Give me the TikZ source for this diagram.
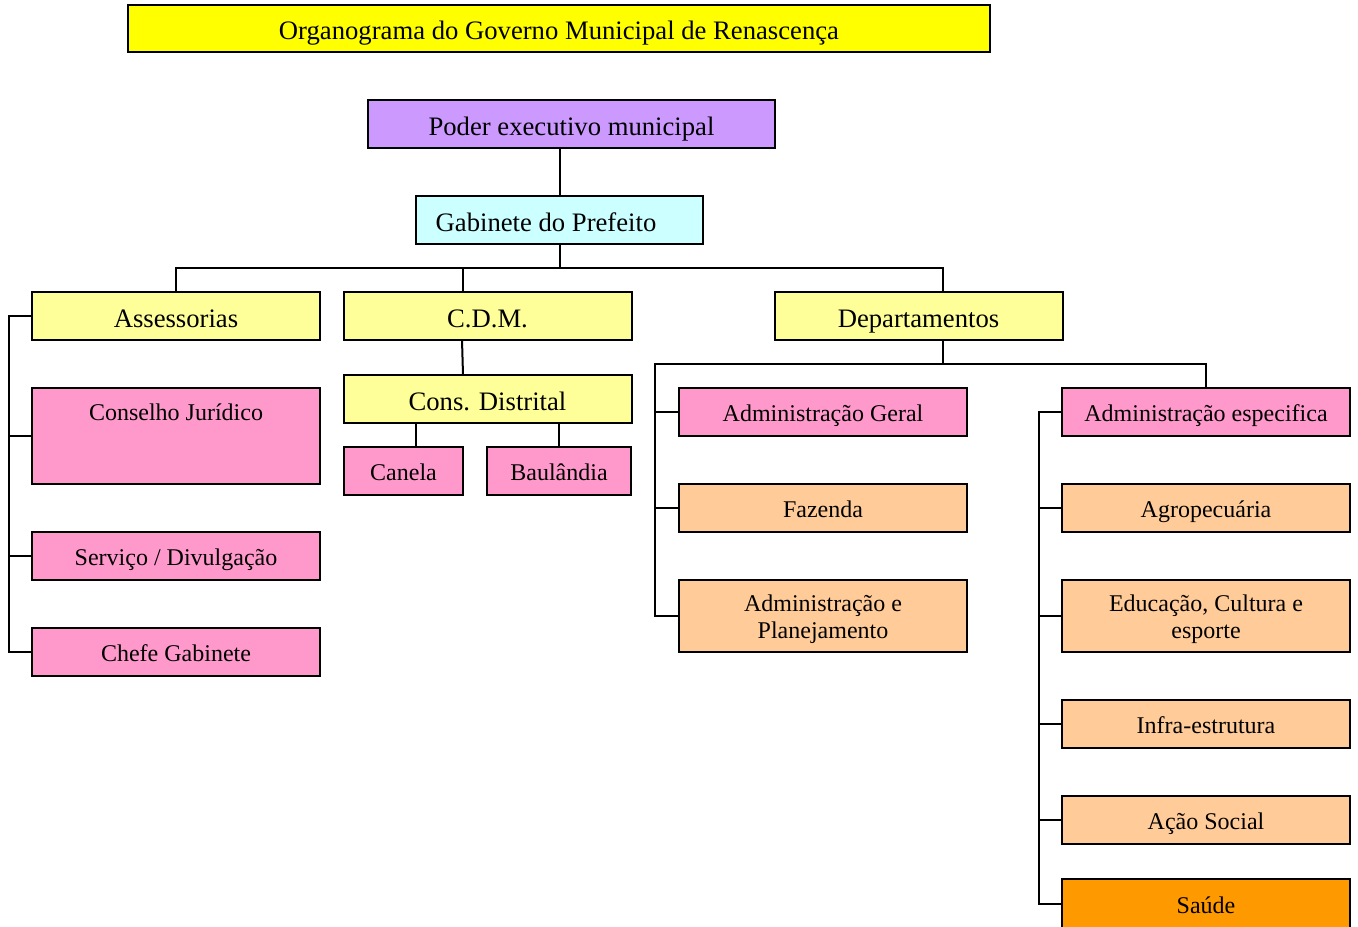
\documentclass[tikz,border=0pt]{standalone}
\usepackage{fontspec}
\setmainfont{Liberation Serif}
\newdimen\px \px=0.75pt
\definecolor{titleyellow}{RGB}{255,255,0}
\definecolor{lilac}{RGB}{204,153,255}
\definecolor{palecyan}{RGB}{204,255,255}
\definecolor{paleyellow}{RGB}{255,255,153}
\definecolor{rose}{RGB}{255,153,204}
\definecolor{peach}{RGB}{255,204,153}
\definecolor{amber}{RGB}{255,153,0}
% two centred lines whose baseline is the first one
\newcommand\twolines[2]{\vtop{\baselineskip=20.5pt\halign{\hfil##\hfil\cr #1\cr #2\cr}}}

\begin{document}
\begin{tikzpicture}[x=0.75pt,y=-0.75pt,
  box/.style={draw=black, line width=2\px, inner sep=0pt, outer sep=0pt},
  big/.style={box, font=\fontsize{20}{24}\selectfont, text height=19pt, text depth=2.5pt},
  small/.style={box, font=\fontsize{18}{21}\selectfont, text height=17pt, text depth=3pt},
  double/.style={small, text height=13pt, text depth=20pt, minimum height=72\px},
  wide/.style={minimum width=288\px, minimum height=48\px},
  wire/.style={line width=2\px, draw=black}]

\useasboundingbox (0,0) rectangle (1358,926);
\clip (0,0) rectangle (1358,926);

% heading and top of the hierarchy
\node[big, fill=titleyellow, minimum width=862\px, minimum height=47\px] (title) at (559,28.5)
  {Organograma do Governo Municipal de Renascença};
\node[big, fill=lilac, minimum width=407\px, minimum height=48\px] (poder) at (571.5,124)
  {Poder executivo municipal};
\node[big, fill=palecyan, minimum width=287\px, minimum height=48\px] (gab) at (559.5,220)
  {Gabinete do Prefeito\hspace*{27\px}};

% second level
\node[big, wide, fill=paleyellow] (ass) at (176,316) {Assessorias};
\node[big, wide, fill=paleyellow] (cdm) at (487.5,316) {C.D.M.};
\node[big, wide, fill=paleyellow] (dep) at (918.5,316) {Departamentos};

% C.D.M. branch
\node[big, wide, fill=paleyellow] (cons) at (487.5,399) {Cons. Distrital};
\node[small, fill=rose, minimum width=119\px, minimum height=48\px] (canela) at (403.5,471) {Canela};
\node[small, fill=rose, minimum width=144\px, minimum height=48\px] (baul) at (559,471) {Baulândia};

% Assessorias branch
\node[small, fill=rose, minimum width=288\px, minimum height=96\px, text height=13pt, text depth=36pt] (cj) at (176,436) {Conselho Jurídico};
\node[small, wide, fill=rose] (serv) at (176,556) {Serviço / Divulgação};
\node[small, wide, fill=rose] (chefe) at (176,652) {Chefe Gabinete};

% Departamentos, first column
\node[small, wide, fill=rose] (admg) at (823,412) {Administração Geral};
\node[small, wide, fill=peach] (faz) at (823,508) {Fazenda};
\node[double, minimum width=288\px, fill=peach] (adplan) at (823,616) {\twolines{Administração e}{Planejamento}};

% Departamentos, second column
\node[small, wide, fill=rose] (admesp) at (1206,412) {Administração especifica};
\node[small, wide, fill=peach] (agro) at (1206,508) {Agropecuária};
\node[double, minimum width=288\px, fill=peach] (edu) at (1206,616) {\twolines{Educação, Cultura e}{esporte}};
\node[small, wide, fill=peach] (infra) at (1206,724) {Infra-estrutura};
\node[small, wide, fill=peach] (acao) at (1206,820) {Ação Social};
\node[small, fill=amber, minimum width=288\px, minimum height=50\px] (saude) at (1206,904) {Saúde};

% drop points on the wide boxes
\coordinate (cdmdrop) at ([xshift=-24.5\px]cdm.north);
\coordinate (depdrop) at ([xshift=24.5\px]dep.north);
\coordinate (deprail) at ([xshift=-24\px]admg.west);

% connectors: top
\draw[wire] (poder.south -| gab.north) -- (gab.north);
\draw[wire] (gab.south) -- ++(0,24) coordinate (busA);
\draw[wire] (ass.north) -- (ass.north |- busA) -- (depdrop |- busA) -- (depdrop);
\draw[wire] (cdmdrop |- busA) -- (cdmdrop);

% connectors: C.D.M.
\draw[wire] ([xshift=-25.5\px]cdm.south) -- ([xshift=-24.5\px]cons.north);
\draw[wire] ([xshift=12.5\px]canela.north) -- ([xshift=12.5\px]canela.north |- cons.south);
\draw[wire] (baul.north) -- (baul.north |- cons.south);

% connectors: Assessorias
\draw[wire] (ass.west) -- ++(-23,0) coordinate (assrail) -- (assrail |- chefe.west) -- (chefe.west);
\draw[wire] (assrail |- cj.west) -- (cj.west);
\draw[wire] (assrail |- serv.west) -- (serv.west);

% connectors: Departamentos
\draw[wire] (dep.south -| depdrop) -- ++(0,24) coordinate (busB);
\draw[wire] (admesp.north) -- (admesp.north |- busB) -- (deprail |- busB) -- (deprail |- adplan.west) -- (adplan.west);
\draw[wire] (deprail |- admg.west) -- (admg.west);
\draw[wire] (deprail |- faz.west) -- (faz.west);

\draw[wire] (admesp.west) -- ++(-23,0) coordinate (esprail) -- (esprail |- saude.west) -- (saude.west);
\draw[wire] (esprail |- agro.west) -- (agro.west);
\draw[wire] (esprail |- edu.west) -- (edu.west);
\draw[wire] (esprail |- infra.west) -- (infra.west);
\draw[wire] (esprail |- acao.west) -- (acao.west);
\end{tikzpicture}
\end{document}
